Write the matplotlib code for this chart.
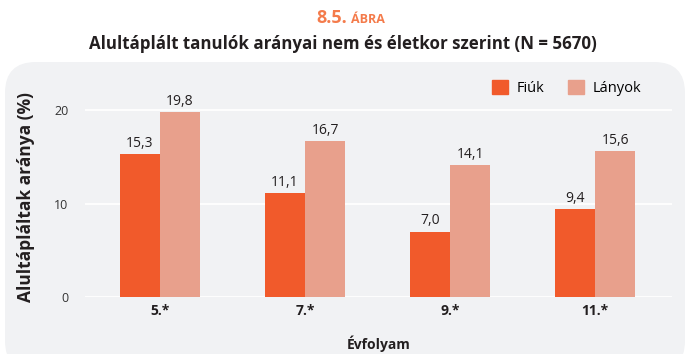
import numpy as np
import matplotlib.pyplot as plt
from matplotlib.patches import FancyBboxPatch, Patch

# --- adatok ---
evfolyam = ["5.*", "7.*", "9.*", "11.*"]
fiuk = [15.3, 11.1, 7.0, 9.4]
lanyok = [19.8, 16.7, 14.1, 15.6]
y_ticks = [0, 10, 20]

c_fiu = "#F15A2B"
c_lany = "#E8A08C"
c_panel = "#F1F2F4"

plt.rcParams["font.family"] = ["Open Sans", "DejaVu Sans"]

fig = plt.figure(figsize=(6.86, 3.54), dpi=100)

# --- szürke háttér panel ---
panel = FancyBboxPatch((5 / 686, -0.05), 680 / 686, (354 - 62) / 354 + 0.05,
                       boxstyle="round,pad=0,rounding_size=0.045",
                       transform=fig.transFigure, facecolor=c_panel,
                       edgecolor="none", zorder=-10, mutation_aspect=686 / 354)
fig.patches.append(panel)

# --- címek ---
fig.text(0.506, 0.948, "8.5.", ha="right", va="center", color="#F47B4B",
         fontsize=13, fontweight="bold")
fig.text(0.511, 0.944, "ÁBRA", ha="left", va="center", color="#F47B4B",
         fontsize=9, fontweight="bold")
fig.text(0.5, 0.876, "Alultáplált tanulók arányai nem és életkor szerint (N = 5670)",
         ha="center", va="center", fontsize=12.2, fontweight="bold",
         color="#231F20")

ax = fig.add_axes([85 / 686, 57 / 354, 587 / 686, 201 / 354])
ax.set_facecolor("none")

x = np.arange(len(evfolyam))
w = 0.276
b1 = ax.bar(x - w / 2, fiuk, w, color=c_fiu, label="Fiúk", zorder=3)
b2 = ax.bar(x + w / 2, lanyok, w, color=c_lany, label="Lányok", zorder=3)

for bars, vals in ((b1, fiuk), (b2, lanyok)):
    for r, v in zip(bars, vals):
        ax.text(r.get_x() + r.get_width() / 2, v + 0.35,
                f"{v:.1f}".replace(".", ","), ha="center", va="bottom",
                fontsize=10, color="#231F20")

ax.set_xlim(-0.517, 3.53)
ax.set_ylim(0, 21.5)
ax.set_yticks(y_ticks)
ax.set_yticklabels([str(t) for t in y_ticks], fontsize=9, color="#333333")
ax.set_xticks(x)
ax.set_xticklabels(evfolyam, fontsize=10, fontweight="bold", color="#231F20")
ax.tick_params(axis="x", length=0, pad=5)
ax.tick_params(axis="y", length=0, pad=12)
ax.grid(axis="y", color="white", linewidth=1.3, zorder=1)
ax.set_axisbelow(True)
for s in ax.spines.values():
    s.set_visible(False)

ax.set_ylabel("Alultápláltak aránya (%)", fontsize=12.5, fontweight="bold",
              color="#231F20", labelpad=14)
ax.set_xlabel("Évfolyam", fontsize=10, fontweight="bold", color="#231F20",
              labelpad=13)

handles = [Patch(color=c_fiu, label="Fiúk"), Patch(color=c_lany, label="Lányok")]
ax.legend(handles=handles, loc="upper right", bbox_to_anchor=(0.97, 1.145),
          ncol=2, frameon=False, fontsize=10.5, handlelength=1.1,
          handleheight=1.1, columnspacing=1.6, handletextpad=0.6)

fig.savefig("out.png", dpi=100)
